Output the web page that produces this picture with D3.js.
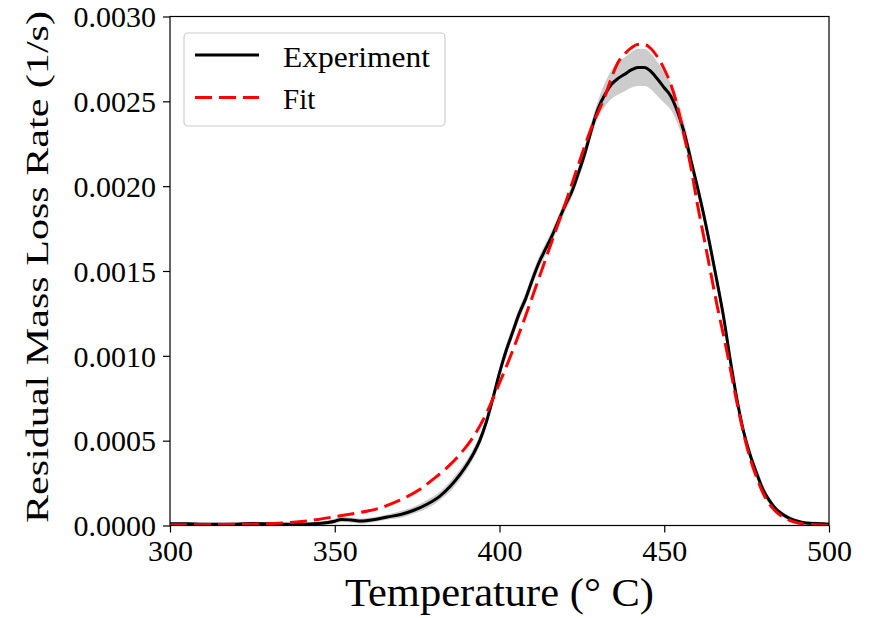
<!DOCTYPE html>
<html>
<head>
<meta charset="utf-8">
<script src="https://cdn.jsdelivr.net/npm/d3@7"></script>
<style>
	body { margin: 0; background: #fff; }
	svg text { font-family: "Liberation Serif", "DejaVu Serif", serif; fill: #000; }
	.tick text { font-size: 30px; }
	.tick line { stroke: #000; stroke-width: 1.2; }
</style>
</head>
<body>
<div id="chart"></div>
<script>
// experiment curve, rates in units of 1e-4 1/s
var expTemp = [300, 305, 310, 315, 320, 325, 330, 335, 340, 345, 350, 352, 355, 358, 360, 363, 366, 370, 374, 378,
	382, 385, 388, 390, 392, 394, 396, 398, 400, 402, 404, 406, 408, 410, 412, 414, 416, 418, 420, 422,
	424, 426, 428, 430, 432, 434, 436, 438, 440, 442, 444, 446, 448, 450, 452, 454, 456, 458, 460, 462,
	464, 466, 468, 470, 472, 474, 476, 478, 480, 482, 484, 486, 488, 490, 492, 494, 496, 498, 500];
var expRate = [0.1, 0.1, 0.08, 0.08, 0.08, 0.12, 0.1, 0.08, 0.08, 0.12, 0.25, 0.36, 0.32, 0.26, 0.3, 0.38, 0.5, 0.65, 0.9, 1.25,
	1.75, 2.3, 3.0, 3.55, 4.2, 5.0, 6.1, 7.5, 9.0, 10.3, 11.4, 12.5, 13.4, 14.5, 15.5, 16.3, 17.1, 18.0, 18.9, 19.7,
	20.8, 22.0, 23.4, 24.6, 25.4, 26.0, 26.35, 26.6, 26.85, 27.0, 27.0, 26.75, 26.3, 25.8, 25.3, 24.4, 23.2, 21.6, 20.0, 18.3,
	16.4, 14.4, 12.3, 9.8, 7.5, 5.6, 4.2, 3.1, 2.1, 1.45, 0.95, 0.65, 0.42, 0.28, 0.18, 0.13, 0.12, 0.1, 0.08];
// half width of the grey band round the experiment
var expSpread = [0.1, 0.1, 0.1, 0.1, 0.1, 0.1, 0.1, 0.1, 0.1, 0.1, 0.15, 0.15, 0.15, 0.15, 0.15, 0.15, 0.15, 0.2, 0.2, 0.25,
	0.25, 0.3, 0.3, 0.3, 0.3, 0.3, 0.3, 0.3, 0.3, 0.35, 0.35, 0.35, 0.35, 0.35, 0.35, 0.35, 0.35, 0.35, 0.35, 0.35,
	0.35, 0.4, 0.45, 0.5, 0.7, 0.85, 0.95, 1.0, 1.05, 1.1, 1.1, 1.05, 1.0, 0.9, 0.8, 0.7, 0.6, 0.5, 0.4, 0.4,
	0.4, 0.4, 0.4, 0.4, 0.3, 0.3, 0.3, 0.3, 0.3, 0.2, 0.15, 0.15, 0.15, 0.1, 0.1, 0.1, 0.1, 0.1, 0.1];

// fitted curve, same units
var fitTemp = [300, 310, 320, 330, 335, 340, 345, 350, 355, 360, 364, 368, 372, 376, 380, 384, 388, 392, 396, 400,
	404, 408, 412, 416, 420, 424, 428, 432, 434, 436, 438, 440, 442, 444, 446, 448, 450, 452, 454, 456,
	458, 460, 462, 464, 466, 468, 470, 472, 474, 476, 478, 480, 482, 484, 486, 488, 490, 492, 494, 496, 500];
var fitRate = [0.05, 0.05, 0.07, 0.1, 0.16, 0.24, 0.36, 0.52, 0.68, 0.85, 1.05, 1.35, 1.7, 2.15, 2.75, 3.4, 4.2, 5.2, 6.6, 8.4,
	10.3, 12.4, 14.6, 16.8, 19.0, 21.3, 23.5, 25.3, 26.4, 27.3, 27.8, 28.15, 28.35, 28.35, 28.1, 27.6, 26.9, 26.0, 24.7, 23.0,
	21.2, 19.0, 17.0, 15.0, 13.0, 11.2, 9.3, 7.3, 5.5, 4.0, 2.85, 1.9, 1.25, 0.8, 0.5, 0.3, 0.18, 0.1, 0.06, 0.04, 0.02];

var xTicks = [300, 350, 400, 450, 500];
var yTicks = [0, 0.0005, 0.001, 0.0015, 0.002, 0.0025, 0.003];
var legendNames = ['Experiment', 'Fit'];

var width = 870;
var height = 618;
var margin = {left: 170, right: 41, top: 16.5, bottom: 92.5};

var svg = d3.select('#chart').append('svg')
	.attr('width', width)
	.attr('height', height);

var x = d3.scaleLinear()
	.domain([300, 500])
	.range([margin.left, width - margin.right]);

var y = d3.scaleLinear()
	.domain([0, 0.003])
	.range([height - margin.bottom, margin.top]);

var expData = expTemp.map(function(t, i) {
	return {t: t, v: expRate[i] * 1e-4, s: expSpread[i] * 1e-4};
});
var fitData = fitTemp.map(function(t, i) {
	return {t: t, v: fitRate[i] * 1e-4};
});

svg.append('clipPath').attr('id', 'plot-clip')
	.append('rect')
	.attr('x', x(300)).attr('y', y(0.003))
	.attr('width', x(500) - x(300)).attr('height', y(0) - y(0.003));

var gPlot = svg.append('g').attr('clip-path', 'url(#plot-clip)');

// grey band
var band = d3.area()
	.x(function(d) { return x(d.t); })
	.y0(function(d) { return y(Math.max(0, d.v - d.s)); })
	.y1(function(d) { return y(d.v + d.s); })
	.curve(d3.curveMonotoneX);

gPlot.append('path')
	.attr('d', band(expData))
	.attr('fill', '#cccccc');

var line = d3.line()
	.x(function(d) { return x(d.t); })
	.y(function(d) { return y(d.v); })
	.curve(d3.curveMonotoneX);

gPlot.append('path')
	.attr('d', line(expData))
	.attr('fill', 'none')
	.attr('stroke', '#000')
	.attr('stroke-width', 3)
	.attr('stroke-linejoin', 'round');

gPlot.append('path')
	.attr('d', line(fitData))
	.attr('fill', 'none')
	.attr('stroke', '#ff0000')
	.attr('stroke-width', 3)
	.attr('stroke-dasharray', '17,7');

// axes
var xAxis = d3.axisBottom(x)
	.tickValues(xTicks)
	.tickSize(7)
	.tickPadding(5)
	.tickFormat(d3.format('d'));

var yAxis = d3.axisLeft(y)
	.tickValues(yTicks)
	.tickSize(7)
	.tickPadding(7)
	.tickFormat(d3.format('.4f'));

var gx = svg.append('g')
	.attr('transform', 'translate(0,' + y(0) + ')')
	.call(xAxis);
var gy = svg.append('g')
	.attr('transform', 'translate(' + x(300) + ',0)')
	.call(yAxis);
gx.select('.domain').remove();
gy.select('.domain').remove();
gx.selectAll('.tick text').attr('dy', '0.78em');
gy.selectAll('.tick text').attr('dy', '0.34em');

// frame
svg.append('rect')
	.attr('x', x(300)).attr('y', y(0.003))
	.attr('width', x(500) - x(300)).attr('height', y(0) - y(0.003))
	.attr('fill', 'none')
	.attr('stroke', '#000')
	.attr('stroke-width', 1.2);

// axis titles
svg.append('text')
	.attr('x', (x(300) + x(500)) / 2)
	.attr('y', 606)
	.attr('text-anchor', 'middle')
	.style('font-size', '39px')
	.attr('textLength', 309)
	.attr('lengthAdjust', 'spacingAndGlyphs')
	.text('Temperature (° C)');

svg.append('text')
	.attr('transform', 'translate(48,' + 267 + ') rotate(-90)')
	.attr('text-anchor', 'middle')
	.style('font-size', '31px')
	.attr('textLength', 512)
	.attr('lengthAdjust', 'spacingAndGlyphs')
	.text('Residual Mass Loss Rate (1/s)');

// legend
var gLegend = svg.append('g')
	.attr('transform', 'translate(184,33)');

gLegend.append('rect')
	.attr('width', 261)
	.attr('height', 93)
	.attr('rx', 4)
	.attr('fill', '#fff')
	.attr('fill-opacity', 0.8)
	.attr('stroke', '#cccccc')
	.attr('stroke-width', 1.2);

var legendStyles = [
	{color: '#000', dash: null},
	{color: '#ff0000', dash: '17,7'}
];

var gLegendElem = gLegend.selectAll('.legend')
	.data(legendNames)
	.enter().append('g')
		.attr('transform', function(d, i) { return 'translate(0,' + (22 + i * 42.5) + ')'; });

gLegendElem.append('line')
	.attr('x1', 11).attr('x2', 75)
	.attr('stroke', function(d, i) { return legendStyles[i].color; })
	.attr('stroke-width', 3)
	.attr('stroke-dasharray', function(d, i) { return legendStyles[i].dash; });

gLegendElem.append('text')
	.attr('x', 99)
	.attr('y', 11.5)
	.style('font-size', '29px')
	.attr('textLength', function(d) { return d == 'Experiment' ? 147 : null; })
	.attr('lengthAdjust', 'spacingAndGlyphs')
	.text(function(d) { return d; });
</script>
</body>
</html>
